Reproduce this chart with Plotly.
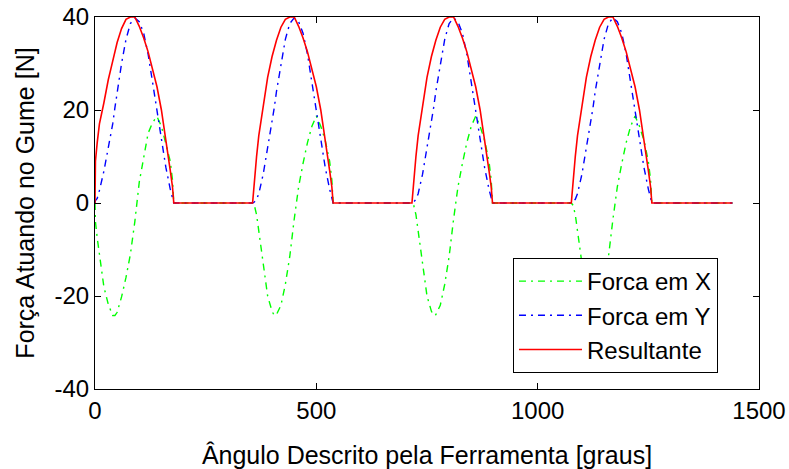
import plotly.graph_objects as go

# Ângulo descrito pela ferramenta [graus]
angulo = [
    0, 1, 5, 10, 20, 30, 40, 45, 50, 60, 70, 80, 90, 100, 110, 120, 130, 140, 150, 160, 170, 175, 178,
    356, 360, 365, 370, 380, 390, 400, 405, 410, 420, 430, 440, 450, 460, 470, 480, 490, 500, 510, 520, 530, 535, 538,
    716, 720, 725, 730, 740, 750, 760, 765, 770, 780, 790, 800, 810, 820, 830, 840, 850, 860, 870, 880, 890, 895, 898,
    1076, 1080, 1085, 1090, 1100, 1110, 1120, 1125, 1130, 1140, 1150, 1160, 1170, 1180, 1190, 1200, 1210, 1220, 1230, 1240, 1250, 1255, 1258,
    1440,
]

forca_x = [
    0, -4, -7.5, -11, -18, -21.8, -24.2, -24.2, -23.5, -20.2, -16, -11, -4, 4.5, 10, 15, 17.3, 18.6, 16.5, 13, 9, 5, 0,
    0, -0.5, -2.5, -6, -13.5, -20, -23.3, -24.2, -24, -22, -17.5, -11.5, -3.5, 3.5, 8.5, 13, 16.5, 18.7, 16.5, 13.5, 9, 5, 0,
    0, -0.5, -2.5, -6, -13.5, -20, -23.3, -24.2, -24, -22, -17.5, -11.5, -3.5, 3.5, 8.5, 13, 16.5, 18.7, 16.5, 13.5, 9, 5, 0,
    0, -0.5, -2.5, -6, -13.5, -20, -23.3, -24.2, -24, -22, -17.5, -11.5, -3.5, 3.5, 8.5, 13, 16.5, 18.7, 16.5, 13.5, 9, 5, 0,
    0,
]

forca_y = [
    0, 0.5, 1, 2.7, 6.8, 11.5, 17, 20.5, 24, 30, 35.2, 38.6, 39.8, 39, 36.5, 32, 26, 19.8, 13.2, 7.7, 3, 1, 0,
    0, 0.2, 0.8, 2, 6.2, 12, 17, 20.5, 24, 30, 35.2, 38.6, 39.8, 39, 36.5, 32, 26, 19.8, 13.2, 7.7, 3, 1, 0,
    0, 0.2, 0.8, 2, 6.2, 12, 17, 20.5, 24, 30, 35.2, 38.6, 39.8, 39, 36.5, 32, 26, 19.8, 13.2, 7.7, 3, 1, 0,
    0, 0.2, 0.8, 2, 6.2, 12, 17, 20.5, 24, 30, 35.2, 38.6, 39.8, 39, 36.5, 32, 26, 19.8, 13.2, 7.7, 3, 1, 0,
    0,
]

resultante = [
    0, 9, 13, 17, 21.5, 26.5, 30.5, 32.5, 34.5, 37.5, 39.5, 40, 40, 38, 35.5, 32.5, 28.5, 25, 20, 14, 7, 3.5, 0,
    0, 5, 10, 14.5, 21, 27, 31.5, 33.3, 35, 37.8, 39.5, 40, 40, 38, 35.5, 32.5, 28.5, 25, 20, 14, 7, 3.5, 0,
    0, 5, 10, 14.5, 21, 27, 31.5, 33.3, 35, 37.8, 39.5, 40, 40, 38, 35.5, 32.5, 28.5, 25, 20, 14, 7, 3.5, 0,
    0, 5, 10, 14.5, 21, 27, 31.5, 33.3, 35, 37.8, 39.5, 40, 40, 38, 35.5, 32.5, 28.5, 25, 20, 14, 7, 3.5, 0,
    0,
]

nomes = ["Forca em X", "Forca em Y", "Resultante"]
x_ticks = [0, 500, 1000, 1500]
y_ticks = [-40, -20, 0, 20, 40]
y_tick_text = ["-40", "-20", "0", "20", "40"]

FONT = "Liberation Sans, Arial, Helvetica, sans-serif"

fig = go.Figure()
fig.add_trace(go.Scatter(x=angulo, y=forca_x, mode="lines", name=nomes[0],
                         line=dict(color="#00FF00", width=1.4, dash="7px,5px,2px,5px")))
fig.add_trace(go.Scatter(x=angulo, y=forca_y, mode="lines", name=nomes[1],
                         line=dict(color="#0000FF", width=1.4, dash="7px,5px,2px,5px")))
fig.add_trace(go.Scatter(x=angulo, y=resultante, mode="lines", name=nomes[2],
                         line=dict(color="#FF0000", width=1.6)))

axis_common = dict(
    showline=True, linecolor="black", linewidth=1, mirror="ticks",
    ticks="inside", ticklen=6, tickcolor="black", tickwidth=1,
    showgrid=False, zeroline=False, automargin=False,
    tickfont=dict(family=FONT, size=24, color="black"),
)

fig.update_layout(
    width=789, height=469,
    margin=dict(l=95, r=30, t=17, b=80, autoexpand=False),
    paper_bgcolor="white", plot_bgcolor="white",
    font=dict(family=FONT, size=24, color="black"),
    xaxis=dict(range=[0, 1500], tickvals=x_ticks,
               title=dict(text="Ângulo Descrito pela Ferramenta [graus]",
                          font=dict(family=FONT, size=25, color="black"), standoff=24),
               **axis_common),
    yaxis=dict(range=[-40, 40], tickvals=y_ticks, ticktext=y_tick_text,
               title=dict(text="Força Atuando no Gume [N]",
                          font=dict(family=FONT, size=25, color="black"), standoff=12),
               **axis_common),
    legend=dict(x=0.6295, y=0.043, xanchor="left", yanchor="bottom",
                bgcolor="white", bordercolor="black", borderwidth=1,
                font=dict(family=FONT, size=24, color="black"),
                itemwidth=63, tracegroupgap=0),
    showlegend=True,
)

fig.write_html("out.html",
               config={"displayModeBar": False},
               post_script="document.body.style.margin='0';document.body.style.padding='0';")
